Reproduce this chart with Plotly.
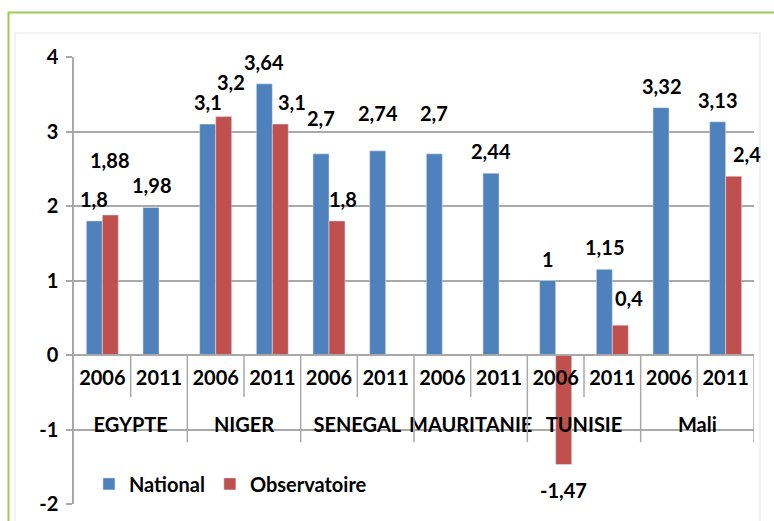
import plotly.graph_objects as go

# ---------------- data ----------------
countries = ["EGYPTE", "NIGER", "SENEGAL", "MAURITANIE", "TUNISIE", "Mali"]
years = ["2006", "2011"]
national = [1.8, 1.98, 3.1, 3.64, 2.7, 2.74, 2.7, 2.44, 1, 1.15, 3.32, 3.13]
observatoire = [1.88, None, 3.2, 3.1, 1.8, None, None, None, -1.47, 0.4, None, 2.4]
y_ticks = [-2, -1, 0, 1, 2, 3, 4]
y_range = [-2, 4]

# outer level shown one line lower (as in the reference)
level1 = ["<br>" + c for c in countries for _ in years]
level2 = [y for _ in countries for y in years]


def fmt(v):
    return f"{v:g}".replace(".", ",")


# ---------------- style ----------------
BLUE = "#4F81BD"
RED = "#C0504D"
GRID = "#A9A9A9"
FONT = "Lato, Liberation Sans, sans-serif"
FS = 20
BARGAP = 0.435
HALF = (1 - BARGAP) / 4
LBL = 22  # px from bar end to label centre
# per-label nudges (dx px, extra dy px)
nat_nudge = {4: (0, 14), 5: (0, 16), 6: (0, 19)}
obs_nudge = {0: (-1, 33), 2: (7, 13), 3: (12, 0), 4: (6, 0), 8: (0, 3), 9: (9, 5), 11: (13, 0)}

fig = go.Figure()
fig.add_bar(x=[level1, level2], y=national, name="National", marker_color=BLUE)
fig.add_bar(x=[level1, level2], y=observatoire, name="Observatoire", marker_color=RED)

lab_font = dict(family=FONT, size=FS, color="black", weight="bold")
for series, off, nudge in ((national, -HALF, nat_nudge), (observatoire, HALF, obs_nudge)):
    for i, v in enumerate(series):
        if v is None:
            continue
        dx, dy = nudge.get(i, (0, 0))
        fig.add_annotation(
            x=i + off, y=v, text=fmt(v), showarrow=False,
            xanchor="center", yanchor="middle",
            xshift=dx, yshift=(LBL + dy) if v >= 0 else -(LBL + dy),
            font=lab_font,
        )

shapes = []
# category separators below the axis
n = len(level1)
for k in range(n):
    bx = k + 0.5
    outer = (k % len(years) == len(years) - 1)
    shapes.append(dict(type="line", xref="x", yref="y", x0=bx, x1=bx,
                       y0=0, y1=-1.17 if outer else -0.565,
                       line=dict(color=GRID, width=1.5)))
# outer frames
shapes.append(dict(type="rect", xref="paper", yref="paper",
                   x0=-0.0868, x1=1.0088, y0=-0.2, y1=1.0537,
                   line=dict(color="#EDEDED", width=1.5), layer="below"))
shapes.append(dict(type="rect", xref="paper", yref="paper",
                   x0=-0.0963, x1=1.08, y0=-0.2, y1=1.0996,
                   line=dict(color="#9BCB55", width=2), layer="below"))

fig.update_layout(
    width=774, height=521,
    margin=dict(l=74, r=20, t=57, b=17, autoexpand=False),
    paper_bgcolor="white", plot_bgcolor="white",
    barmode="group", bargap=BARGAP, bargroupgap=0,
    font=dict(family=FONT, size=FS, color="black", weight="bold"),
    shapes=shapes,
    showlegend=True,
    legend=dict(orientation="h", x=0.022, y=0.045, xanchor="left", yanchor="middle",
                bgcolor="rgba(0,0,0,0)", font=dict(family=FONT, size=FS, color="black", weight="bold"),
                itemwidth=30, traceorder="normal"),
)
fig.update_xaxes(
    type="multicategory", anchor="free", position=(0 - y_range[0]) / (y_range[1] - y_range[0]),
    showline=True, linecolor=GRID, linewidth=1.5, ticks="", showgrid=False,
    showdividers=False, ticklabelstandoff=5,
    tickfont=dict(family=FONT, size=FS, color="black", weight="bold"),
    range=[-0.5, n - 0.5],
)
fig.update_yaxes(
    range=y_range, tickvals=y_ticks, ticktext=[str(t) for t in y_ticks],
    showgrid=True, gridcolor=GRID, gridwidth=1.5,
    zeroline=False, showline=True, linecolor=GRID, linewidth=1.5,
    ticks="outside", ticklen=6, tickcolor=GRID, tickwidth=1.5, ticklabelstandoff=4,
    tickfont=dict(family=FONT, size=FS, color="black", weight="bold"),
)

# remove the page's default body margin so the figure fills the window exactly
fig.write_html(
    "out.html",
    config={"displayModeBar": False},
    post_script="document.body.style.margin='0';document.body.style.overflow='hidden';",
)
